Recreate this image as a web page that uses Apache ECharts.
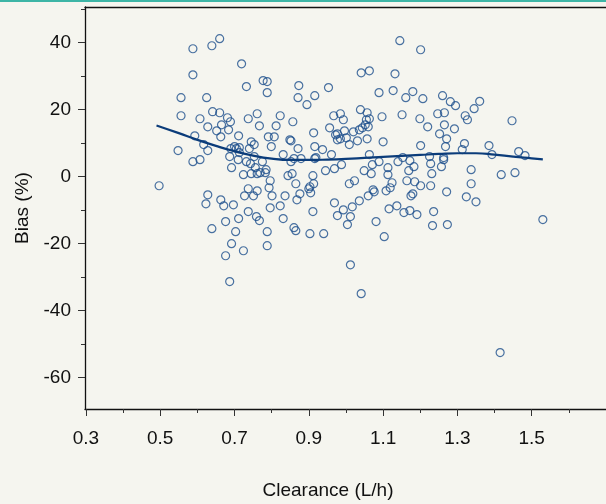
<!DOCTYPE html>
<html>
<head>
<meta charset="utf-8">
<script src="https://cdn.jsdelivr.net/npm/echarts@6/dist/echarts.min.js"></script>
<style>
html,body{margin:0;padding:0;background:#f5f5ef;}
#chart{width:606px;height:504px;}
</style>
</head>
<body>
<div id="chart"></div>
<script>
const clearance = [
0.588,0.639,0.660,0.588,0.719,0.732,0.777,0.788,0.788,0.556,0.625,0.556,0.641,0.660,0.607,0.681,0.689,0.628,0.665,0.737,
0.761,0.767,0.652,0.684,0.663,0.593,0.711,0.617,0.548,0.628,0.588,0.607,0.497,0.692,0.687,0.690,0.700,0.705,0.713,0.740,
0.745,0.753,0.713,0.710,0.732,0.743,0.753,0.756,0.775,0.785,0.724,0.745,0.761,0.769,0.783,0.796,0.737,0.761,0.793,0.628,
0.663,0.727,0.751,0.801,0.791,0.799,0.807,0.812,
1.145,1.201,1.041,1.063,1.132,0.873,0.953,0.871,0.916,0.895,1.089,1.127,1.180,1.161,1.207,1.260,1.281,1.295,0.823,0.857,
0.967,0.985,0.993,1.039,1.057,1.055,1.063,1.097,1.151,1.199,1.247,1.265,1.321,1.327,1.345,0.956,0.977,0.972,0.977,0.985,
0.996,1.001,1.020,1.036,1.044,1.052,1.060,1.009,1.031,1.057,1.100,1.220,1.265,1.292,1.252,1.271,1.319,1.313,1.268,1.201,
0.913,0.916,0.937,0.871,0.849,0.852,0.831,0.852,0.860,0.879,0.916,0.919,0.961,0.988,0.969,0.945,1.063,1.089,1.071,1.113,
1.140,1.153,1.172,1.183,1.169,1.225,1.228,1.263,1.263,1.257,1.231,1.049,1.068,1.113,0.844,0.855,0.911,0.913,0.865,0.903,
0.900,0.905,1.009,1.023,1.124,1.164,1.185,1.201,1.228,1.337,1.337,0.836,0.876,1.073,1.076,1.108,1.119,1.175,1.180,1.271,
1.324,1.360,1.447,1.385,1.393,1.465,1.482,1.455,1.418,1.350,1.415,1.530,
0.623,0.671,0.697,0.737,0.759,0.796,0.711,0.767,0.639,0.703,0.788,0.692,0.788,0.724,0.676,0.687,0.676,
0.823,0.831,0.860,0.865,0.903,0.940,0.911,0.977,0.969,0.993,1.004,1.012,1.017,1.036,1.012,1.041,1.060,1.081,1.103,1.116,
1.137,1.156,1.172,1.191,1.233,1.273,1.236,0.868
];
const bias = [
38.2,39.1,41.2,30.4,33.7,26.9,28.7,28.4,25.1,23.6,23.6,18.2,19.4,19.1,17.3,17.6,16.4,14.9,15.5,17.3,
18.8,15.2,13.7,14.0,11.9,12.2,12.2,9.6,7.8,7.8,4.5,5.1,-2.7,2.7,6.0,8.4,9.0,8.4,8.7,8.4,
10.4,9.6,7.2,5.1,4.5,3.9,6.0,2.7,4.5,2.1,0.6,0.9,0.9,1.2,1.2,-1.2,-3.6,-4.2,-3.3,-5.4,
-6.9,-5.7,-5.7,-5.7,11.9,9.0,11.9,15.2,
40.6,37.9,31.0,31.6,30.7,27.2,26.6,23.6,24.2,21.5,25.1,25.7,25.4,23.6,23.3,24.2,22.4,21.2,18.2,16.4,
18.2,18.8,17.0,20.0,19.1,17.0,17.3,17.9,18.5,17.3,18.8,19.1,18.2,17.0,20.3,14.6,12.8,12.5,11.0,11.3,
13.7,11.6,13.4,14.0,14.6,15.5,14.9,9.6,10.7,11.3,10.4,14.9,15.5,14.3,12.8,11.3,9.9,8.1,9.0,9.3,
13.1,9.0,8.1,8.4,11.0,10.7,6.6,4.5,5.4,5.4,5.4,5.7,6.6,3.6,2.4,1.8,6.6,4.5,3.6,2.7,
4.5,5.7,4.8,3.0,1.8,6.0,3.9,5.7,5.1,3.0,0.9,1.8,0.9,0.6,0.3,0.9,0.3,-2.1,-2.1,-3.0,
-3.6,-4.8,-2.1,-1.2,-1.8,-1.2,-1.5,-2.7,-2.7,2.1,-2.1,-5.7,-5.1,-3.9,-4.5,-4.2,-3.3,-5.7,-5.1,-4.5,
-6.0,22.5,16.7,9.3,6.6,7.5,6.3,1.2,0.6,-7.5,-52.5,-12.8,
-8.1,-8.7,-8.4,-10.4,-11.9,-9.3,-12.5,-13.1,-15.5,-16.4,-16.4,-20.0,-20.6,-22.1,-23.6,-31.3,-13.4,
-8.7,-12.5,-15.2,-16.1,-17.0,-17.0,-10.4,-11.6,-7.8,-9.9,-14.3,-11.9,-9.0,-7.2,-26.3,-34.9,-5.7,-13.4,-17.9,-9.6,
-8.7,-10.7,-10.1,-11.3,-14.6,-14.3,-10.4,-6.9
];
const trendX = [0.49,0.55,0.6,0.65,0.7,0.75,0.8,0.85,0.9,0.95,1.0,1.05,1.1,1.15,1.2,1.25,1.3,1.35,1.4,1.45,1.5,1.53];
const trendY = [15.3,13.0,11.0,9.2,7.6,6.3,5.4,5.0,5.0,5.1,5.3,5.6,5.9,6.2,6.5,6.8,7.0,7.0,6.6,6.0,5.5,5.2];
const xMajor = [0.3,0.5,0.7,0.9,1.1,1.3,1.5];
const xMinor = [0.4,0.6,0.8,1.0,1.2,1.4,1.6];
const yMajor = [40,20,0,-20,-40,-60];
const yMinor = [50,30,10,-10,-30,-50];

const pts = clearance.map((x,i)=>[x,bias[i]]);
const trend = trendX.map((x,i)=>[x,trendY[i]]);

const XMIN=0.2975, XMAX=1.7, YMIN=-69.34, YMAX=50.66;
const lbl = {fontFamily:'Liberation Sans, Arial, sans-serif', fontSize:19, color:'#111'};
const chart = echarts.init(document.getElementById('chart'), null, {renderer:'canvas'});
chart.setOption({
  backgroundColor:'#f5f5ef',
  animation:false,
  grid:{left:85, top:7, bottom:95, right:-28.8, containLabel:false},
  xAxis:[
    {type:'value', min:XMIN, max:XMAX, position:'bottom',
     axisLine:{show:true, onZero:false, lineStyle:{color:'#111', width:1.3}},
     axisTick:{show:true, length:7, customValues:xMajor, lineStyle:{color:'#333'}},
     axisLabel:Object.assign({show:true, margin:20, customValues:xMajor, formatter:v=>v.toFixed(1)}, lbl),
     splitLine:{show:false}},
    {type:'value', min:XMIN, max:XMAX, position:'bottom',
     axisLine:{show:false, onZero:false},
     axisTick:{show:true, length:4, customValues:xMinor, lineStyle:{color:'#333'}},
     axisLabel:{show:false}, splitLine:{show:false}},
    {type:'value', min:XMIN, max:XMAX, position:'top',
     axisLine:{show:true, onZero:false, lineStyle:{color:'#111', width:1.3}},
     axisTick:{show:false}, axisLabel:{show:false}, splitLine:{show:false}}
  ],
  yAxis:[
    {type:'value', min:YMIN, max:YMAX, position:'left',
     axisLine:{show:true, onZero:false, lineStyle:{color:'#111', width:1.3}},
     axisTick:{show:true, length:7, customValues:yMajor, lineStyle:{color:'#333'}},
     axisLabel:Object.assign({show:true, margin:14, customValues:yMajor}, lbl),
     splitLine:{show:false}},
    {type:'value', min:YMIN, max:YMAX, position:'left',
     axisLine:{show:false, onZero:false},
     axisTick:{show:true, length:4, customValues:yMinor, lineStyle:{color:'#333'}},
     axisLabel:{show:false}, splitLine:{show:false}}
  ],
  series:[
    {type:'scatter', xAxisIndex:0, yAxisIndex:0, data:pts, symbol:'circle', symbolSize:8,
     itemStyle:{color:'rgba(0,0,0,0)', borderColor:'#1d4f8c', borderWidth:1.2}, z:2},
    {type:'line', xAxisIndex:0, yAxisIndex:0, data:trend, smooth:true, showSymbol:false,
     lineStyle:{color:'#0b3c7a', width:2.2}, z:3}
  ],
  graphic:[
    {type:'rect', left:0, top:0, shape:{width:606, height:2}, style:{fill:'#3db5a6'}},
    {type:'text', x:328, y:491, style:{text:'Clearance (L/h)', font:'19px "Liberation Sans", Arial, sans-serif', fill:'#111', align:'center', verticalAlign:'middle'}},
    {type:'text', x:23, y:208, rotation:Math.PI/2, style:{text:'Bias (%)', font:'19px "Liberation Sans", Arial, sans-serif', fill:'#111', align:'center', verticalAlign:'middle'}}
  ]
});
</script>
</body>
</html>
